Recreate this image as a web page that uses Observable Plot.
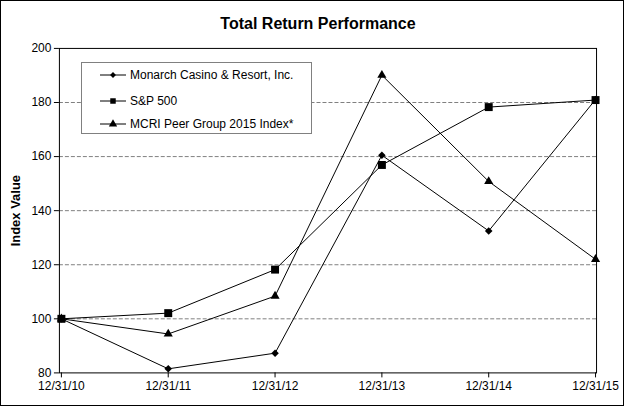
<!DOCTYPE html>
<html><head><meta charset="utf-8">
<script src="https://cdn.jsdelivr.net/npm/d3@7"></script>
<script src="https://cdn.jsdelivr.net/npm/@observablehq/plot@0.6"></script>
<style>
body{margin:0;font-family:"Liberation Sans",Arial,sans-serif;background:#fff;}
#wrap{position:relative;width:624px;height:406px;box-sizing:border-box;border:1px solid #000;overflow:hidden;background:#fff}
#title{position:absolute;top:14px;left:10px;width:614px;text-align:center;font-weight:bold;font-size:16px;line-height:18px;color:#000;}
#chart{position:absolute;left:-1px;top:-1px;}
#legend{position:absolute;left:80px;top:61px;width:231px;height:72px;border:1px solid #808080;background:#fff;box-sizing:border-box;font-size:12px;color:#000;}
#legend .row{position:absolute;left:18px;height:14px;display:flex;align-items:center;white-space:nowrap;}
#legend svg{margin-right:2px;}
#chart g[aria-label="y-axis label"] text{font-weight:bold;font-size:13px;}
</style></head>
<body>
<div id="wrap">
  <div id="chart"></div>
  <div id="title">Total Return Performance</div>
  <div id="legend"></div>
</div>
<script>
const dates = ["12/31/10","12/31/11","12/31/12","12/31/13","12/31/14","12/31/15"];
const monarch = [100, 81.5, 87.3, 160.5, 132.5, 181.1];
const sp500 = [100, 102.1, 118.2, 156.9, 178.3, 180.9];
const peer = [100, 94.4, 108.4, 190.1, 150.8, 122.0];
const seriesNames = ["Monarch Casino & Resort, Inc.", "S&P 500", "MCRI Peer Group 2015 Index*"];
const seriesSymbols = ["diamond2", "square", "triangle"];
const yTicks = [80, 100, 120, 140, 160, 180, 200];
const gridTicks = [100, 120, 140, 160, 180];

const allValues = [monarch, sp500, peer];
const markerR = [3.4, 4.5, 3.4];
const perSeries = allValues.map((vals, s) => vals.map((v, i) => ({date: dates[i], value: v, series: seriesNames[s]})));
const data = perSeries.flat();

const plot = Plot.plot({
  width: 624, height: 406,
  marginLeft: 59, marginRight: 27, marginTop: 48, marginBottom: 33,
  style: {fontFamily: '"Liberation Sans", Arial, sans-serif', fontSize: "12px", color: "#000", background: "transparent", overflow: "visible"},
  x: {type: "point", domain: dates, padding: 0},
  y: {domain: [80, 200]},
  symbol: {domain: seriesNames, range: seriesSymbols},
  marks: [
    Plot.ruleY(gridTicks, {stroke: "#808080", strokeDasharray: "4,2", strokeWidth: 1}),
    Plot.axisY({ticks: yTicks, tickSize: 5, tickPadding: 3, fontSize: 12, label: "Index Value", labelAnchor: "center", labelArrow: "none", labelOffset: 49, stroke: "#000"}),
    Plot.axisX({tickSize: 5, tickPadding: 4, fontSize: 12, label: null, stroke: "#000"}),
    Plot.frame({stroke: "#000", strokeWidth: 1}),
    Plot.line(data, {x: "date", y: "value", z: "series", stroke: "#000", strokeWidth: 1}),
    ...perSeries.map((d, s) => Plot.dot(d, {x: "date", y: "value", symbol: "series", fill: "#000", stroke: "none", r: markerR[s]}))
  ]
});
document.getElementById("chart").appendChild(plot);

// legend
const legend = document.getElementById("legend");
const rowTops = [5, 31, 54];
const symMap = {diamond2: d3.symbolDiamond2, square: d3.symbolSquare, triangle: d3.symbolTriangle};
seriesNames.forEach((name, i) => {
  const row = document.createElement("div");
  row.className = "row";
  row.style.top = rowTops[i] + "px";
  const svg = d3.create("svg").attr("width", 28).attr("height", 14);
  svg.append("line").attr("x1", 0).attr("x2", 26).attr("y1", 7).attr("y2", 7).attr("stroke", "#000");
  svg.append("path").attr("d", d3.symbol(symMap[seriesSymbols[i]], i === 0 ? 22 : 30)()).attr("transform", "translate(13,7)").attr("fill", "#000");
  row.appendChild(svg.node());
  const span = document.createElement("span");
  span.textContent = name;
  row.appendChild(span);
  legend.appendChild(row);
});
</script>
</body></html>
